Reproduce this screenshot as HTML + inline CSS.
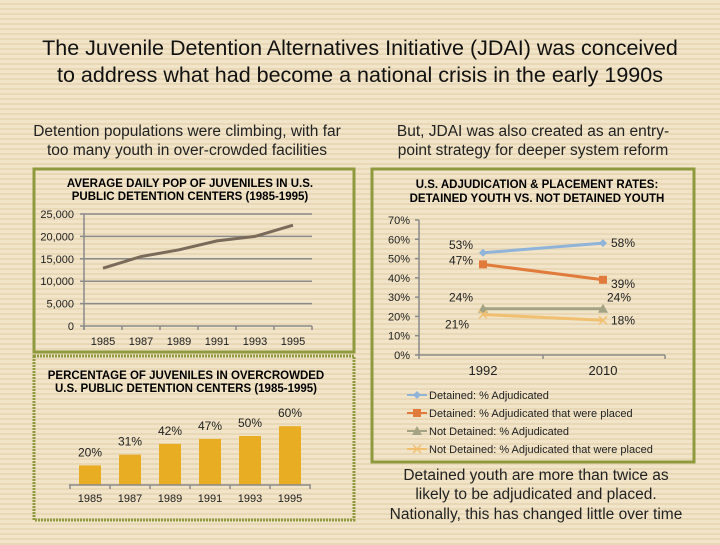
<!DOCTYPE html>
<html><head><meta charset="utf-8"><style>
body{margin:0;width:720px;height:540px;overflow:hidden;font-family:"Liberation Sans",sans-serif;
background:repeating-linear-gradient(180deg,#f1e4c8 0px,#f1e4c8 3px,#e8d8b6 3px,#e8d8b6 5px);}
svg text{font-family:"Liberation Sans",sans-serif;}
</style></head><body>
<svg width="720" height="540">
<g font-size="21.5" text-anchor="middle" fill="#111">
<text x="360" y="55">The Juvenile Detention Alternatives Initiative (JDAI) was conceived</text>
<text x="360" y="82">to address what had become a national crisis in the early 1990s</text>
</g>
<g font-size="15.5" text-anchor="middle" fill="#222">
<text x="187" y="136">Detention populations were climbing, with far</text>
<text x="187" y="155">too many youth in over-crowded facilities</text>
</g>
<g font-size="15.5" text-anchor="middle" fill="#222">
<text x="533" y="136">But, JDAI was also created as an entry-</text>
<text x="533" y="155">point strategy for deeper system reform</text>
</g>
<rect x="34" y="169" width="320" height="183" fill="none" stroke="#8f9a3e" stroke-width="3"/>
<rect x="34" y="356" width="320" height="164" fill="none" stroke="#8f9a3e" stroke-width="3" stroke-dasharray="2 1"/>
<rect x="372" y="169" width="322" height="293" fill="none" stroke="#8f9a3e" stroke-width="3"/>
<g id="c1"></g><g id="c2"></g><g id="c3"></g>
<g font-size="15.5" text-anchor="middle" fill="#222">
<text x="536" y="480">Detained youth are more than twice as</text>
<text x="536" y="499">likely to be adjudicated and placed.</text>
<text x="536" y="519">Nationally, this has changed little over time</text>
</g>
</svg>
<script>
const popYears=["1985","1987","1989","1991","1993","1995"];
const popValues=[12900,15500,17000,19000,20000,22500];
const popTicks=[0,5000,10000,15000,20000,25000];
const crowdYears=["1985","1987","1989","1991","1993","1995"];
const crowdValues=[20,31,42,47,50,60];
const rateCats=["1992","2010"];
const rateTicks=[0,10,20,30,40,50,60,70];
const detAdj=[53,58];
const detPlaced=[47,39];
const notAdj=[24,24];
const notPlaced=[21,18];
const seriesNames=["Detained: % Adjudicated","Detained: % Adjudicated that were placed","Not Detained: % Adjudicated","Not Detained: % Adjudicated that were placed"];
const NS="http://www.w3.org/2000/svg";
function mk(p,t,a){const e=document.createElementNS(NS,t);for(const k in a)e.setAttribute(k,a[k]);p.appendChild(e);return e;}
function tx(p,x,y,s,o){const e=mk(p,'text',Object.assign({x:x,y:y},o||{}));e.textContent=s;return e;}
// chart 1
const c1=document.getElementById('c1');


tx(c1,190,187,"AVERAGE DAILY POP OF JUVENILES IN U.S.",{'text-anchor':'middle','font-size':'11.5','font-weight':'bold'});
tx(c1,190,200,"PUBLIC DETENTION CENTERS (1985-1995)",{'text-anchor':'middle','font-size':'11.5','font-weight':'bold'});
const y1=v=>326-v/25000*112, x1=i=>84+38*i+19;
popTicks.forEach(t=>{const g=mk(c1,'line',{x1:80,x2:312,y1:y1(t),y2:y1(t),stroke:'#8a8a8a','stroke-width':1.5});

const l=tx(c1,74,y1(t)+4,t===0?"0":t.toLocaleString('en-US'),{'text-anchor':'end','font-size':'11',fill:'#222'});
});
mk(c1,'line',{x1:84,x2:84,y1:214,y2:330,stroke:'#8a8a8a','stroke-width':1.5});
for(let i=0;i<=6;i++)mk(c1,'line',{x1:84+38*i,x2:84+38*i,y1:326,y2:330,stroke:'#8a8a8a','stroke-width':1.5});
popYears.forEach((y,i)=>{const l=tx(c1,x1(i),345,y,{'text-anchor':'middle','font-size':'11',fill:'#222'});});
const pl=mk(c1,'polyline',{points:popValues.map((v,i)=>x1(i)+','+y1(v)).join(' '),fill:'none',stroke:'#7a6a5a','stroke-width':3});

// chart 3 bars
const c3=document.getElementById('c3');


tx(c3,186,379,"PERCENTAGE OF JUVENILES IN OVERCROWDED",{'text-anchor':'middle','font-size':'11.5','font-weight':'bold'});
tx(c3,186,392,"U.S. PUBLIC DETENTION CENTERS (1985-1995)",{'text-anchor':'middle','font-size':'11.5','font-weight':'bold'});
const y3=v=>485-v*0.98, x3=i=>90+40*i;
crowdValues.forEach((v,i)=>{const b=mk(c3,'rect',{x:x3(i)-11,y:y3(v),width:22,height:485-y3(v),fill:'#e8ad22'});

const l=tx(c3,x3(i),y3(v)-9,v+"%",{'text-anchor':'middle','font-size':'12',fill:'#222'});
const c=tx(c3,x3(i),502,crowdYears[i],{'text-anchor':'middle','font-size':'11',fill:'#222'});});
mk(c3,'line',{x1:69,x2:311,y1:485,y2:485,stroke:'#8a8a8a','stroke-width':1.5});
for(let i=0;i<=6;i++)mk(c3,'line',{x1:69+40*i+1,x2:69+40*i+1,y1:485,y2:489,stroke:'#8a8a8a','stroke-width':1.5});
// chart 2
const c2=document.getElementById('c2');


tx(c2,537,188,"U.S. ADJUDICATION & PLACEMENT RATES:",{'text-anchor':'middle','font-size':'11.5','font-weight':'bold'});
tx(c2,537,202,"DETAINED YOUTH VS. NOT DETAINED YOUTH",{'text-anchor':'middle','font-size':'11.5','font-weight':'bold'});
const y2=v=>355-v/70*135, x2=i=>483+120*i;
mk(c2,'line',{x1:419,x2:419,y1:220,y2:355,stroke:'#8a8a8a','stroke-width':1.5});
mk(c2,'line',{x1:419,x2:665,y1:355,y2:355,stroke:'#8a8a8a','stroke-width':1.5});
[419,543,665].forEach(x=>mk(c2,'line',{x1:x,x2:x,y1:355,y2:359,stroke:'#8a8a8a','stroke-width':1.5}));
rateTicks.forEach(t=>{mk(c2,'line',{x1:415,x2:419,y1:y2(t),y2:y2(t),stroke:'#8a8a8a','stroke-width':1.5});
const l=tx(c2,410,y2(t)+4,t+"%",{'text-anchor':'end','font-size':'11',fill:'#222'});});
rateCats.forEach((c,i)=>{const l=tx(c2,x2(i),375,c,{'text-anchor':'middle','font-size':'13',fill:'#222'});});
const series=[detAdj,detPlaced,notAdj,notPlaced];
const colors=['#8fb3d9','#e07b3c','#a3a383','#f0c070'];
const labOff=[[[-10,-4],[8,4]],[[-10,0],[8,8]],[[-10,-7],[4,-7]],[[-14,14],[8,4]]];
function marker(p,k,x,y){const c=colors[k];
if(k===0)mk(p,'polygon',{points:`${x},${y-4} ${x+4},${y} ${x},${y+4} ${x-4},${y}`,fill:c});
else if(k===1)mk(p,'rect',{x:x-4,y:y-4,width:8,height:8,fill:c});
else if(k===2)mk(p,'polygon',{points:`${x},${y-5} ${x+5},${y+4} ${x-5},${y+4}`,fill:c});
else{mk(p,'line',{x1:x-4,y1:y-4,x2:x+4,y2:y+4,stroke:c,'stroke-width':1.5});mk(p,'line',{x1:x-4,y1:y+4,x2:x+4,y2:y-4,stroke:c,'stroke-width':1.5});}}
series.forEach((s,k)=>{const g=mk(c2,'g',{});

mk(g,'polyline',{points:s.map((v,i)=>x2(i)+','+y2(v)).join(' '),fill:'none',stroke:colors[k],'stroke-width':3});
s.forEach((v,i)=>{marker(g,k,x2(i),y2(v));
const l=tx(g,x2(i)+labOff[k][i][0],y2(v)+labOff[k][i][1],v+"%",{'text-anchor':i===0?'end':'start','font-size':'12',fill:'#222'});
});
const ly=395+18*k;
const lg=mk(c2,'g',{});

mk(lg,'line',{x1:407,x2:427,y1:ly,y2:ly,stroke:colors[k],'stroke-width':2});
marker(lg,k,417,ly);
tx(lg,429,ly+4,seriesNames[k],{'font-size':'11',fill:'#222'});});
</script>
</body></html>
